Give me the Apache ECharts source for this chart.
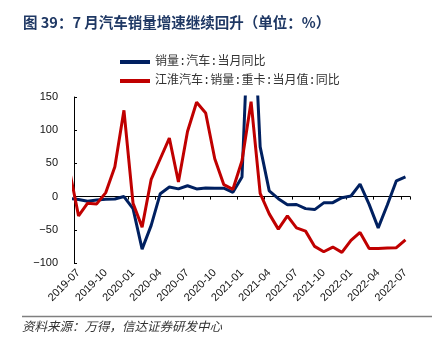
<!DOCTYPE html>
<html><head><meta charset="utf-8">
<script src="https://cdn.jsdelivr.net/npm/echarts@6/dist/echarts.min.js"></script>
<style>html,body{margin:0;padding:0;background:#fff}#c{width:441px;height:346px}</style>
</head><body><div id="c"></div>
<script>
// months (2019-06 is only the clipped lead-in point at the left edge)
const categories = [
  '2019-06','2019-07','2019-08','2019-09','2019-10','2019-11','2019-12',
  '2020-01','2020-02','2020-03','2020-04','2020-05','2020-06','2020-07','2020-08','2020-09','2020-10','2020-11','2020-12',
  '2021-01','2021-02','2021-03','2021-04','2021-05','2021-06','2021-07','2021-08','2021-09','2021-10','2021-11','2021-12',
  '2022-01','2022-02','2022-03','2022-04','2022-05','2022-06','2022-07'
];
// 销量:汽车:当月同比
const autoSalesYoY = [
  -3, -4.3, -6.9, -5.2, -4.0, -3.6, 0.1,
  -18.0, -79.1, -43.3, 4.4, 14.5, 11.6, 16.4, 11.6, 12.8, 12.5, 12.6, 6.4,
  29.5, 364.8, 74.9, 8.6, -3.1, -12.4, -11.9, -18.1, -19.6, -9.4, -9.1, -1.6,
  0.9, 18.7, -11.7, -47.1, -12.6, 23.8, 29.7
];
// 江淮汽车:销量:重卡:当月值:同比
const jacHeavyTruckYoY = [
  40, -29, -10, -11, 6, 45, 130,
  -10, -46, 26, 57, 88, 22, 98, 142, 126, 57, 18, 11,
  54, 143, 5, -26, -49, -29, -47, -52, -75, -83, -76, -84,
  -66, -54, -78, -78, -77.5, -77, -65
];
const yTicks = [-100, -50, 0, 50, 100, 150];
const seriesNames = ['销量:汽车:当月同比', '江淮汽车:销量:重卡:当月值:同比'];
const seriesColors = ['#002060', '#c00000'];

const firstIdx = 1; // 2019-07
const showEvery3 = (i) => i >= firstIdx && (i - firstIdx) % 3 === 0;
const numFont = '"Liberation Sans", Arial, sans-serif';
const cjkFont = '"Noto Sans CJK SC", sans-serif';

const chart = echarts.init(document.getElementById('c'), null, {renderer: 'canvas'});
chart.setOption({
  animation: false,
  backgroundColor: '#fff',
  title: [{
    text: '图 39：7 月汽车销量增速继续回升（单位：%）',
    left: 23, top: 15, padding: 0,
    textStyle: {fontFamily: cjkFont, fontSize: 14.5, fontWeight: 'bold', color: '#1f3864'}
  }, {
    text: '资料来源：万得，信达证券研发中心',
    left: 22, top: 320, padding: 0,
    textStyle: {fontFamily: cjkFont, fontSize: 12.5, fontStyle: 'italic', fontWeight: 'normal', color: '#333'}
  }],
  graphic: [{
    type: 'line', shape: {x1: 22, y1: 316.5, x2: 432, y2: 316.5},
    style: {stroke: '#7f7f7f', lineWidth: 1.5}, silent: true
  }],
  legend: {
    orient: 'vertical', left: 120, top: 56, padding: 0,
    itemWidth: 30, itemHeight: 4, itemGap: 7, icon: 'rect',
    textStyle: {fontFamily: '"Liberation Mono", "Noto Sans CJK SC", monospace', fontSize: 12, color: '#333'},
    data: seriesNames
  },
  grid: {left: 74, right: 31, top: 97, bottom: 83, containLabel: false},
  xAxis: [{
    type: 'category', data: categories, min: firstIdx, boundaryGap: true, position: 'bottom',
    axisLine: {onZero: true, lineStyle: {color: '#000', width: 1}},
    axisTick: {show: true, interval: showEvery3, length: 3, lineStyle: {color: '#000'}},
    axisLabel: {show: false}, splitLine: {show: false}
  }, {
    type: 'category', data: categories, min: firstIdx, boundaryGap: true, position: 'bottom',
    axisLine: {show: false, onZero: false}, axisTick: {show: false},
    axisLabel: {show: true, interval: showEvery3, rotate: 45, margin: 8,
      fontFamily: numFont, fontSize: 11, color: '#111'},
    splitLine: {show: false}
  }],
  yAxis: {
    type: 'value', min: yTicks[0], max: yTicks[yTicks.length - 1], interval: yTicks[1] - yTicks[0],
    axisLine: {show: true, lineStyle: {color: '#000', width: 1}},
    axisTick: {show: true, inside: true, length: 3, lineStyle: {color: '#000'}},
    axisLabel: {margin: 16, fontFamily: numFont, fontSize: 11, color: '#111',
      formatter: (v) => String(v).replace('-', '\u2212')},
    splitLine: {show: false}
  },
  series: [{
    name: seriesNames[0], type: 'line', xAxisIndex: 0, data: autoSalesYoY,
    symbol: 'none', clip: true, color: seriesColors[0],
    lineStyle: {width: 3, color: seriesColors[0]}
  }, {
    name: seriesNames[1], type: 'line', xAxisIndex: 0, data: jacHeavyTruckYoY,
    symbol: 'none', clip: true, color: seriesColors[1],
    lineStyle: {width: 3, color: seriesColors[1]}
  }]
});
</script></body></html>
